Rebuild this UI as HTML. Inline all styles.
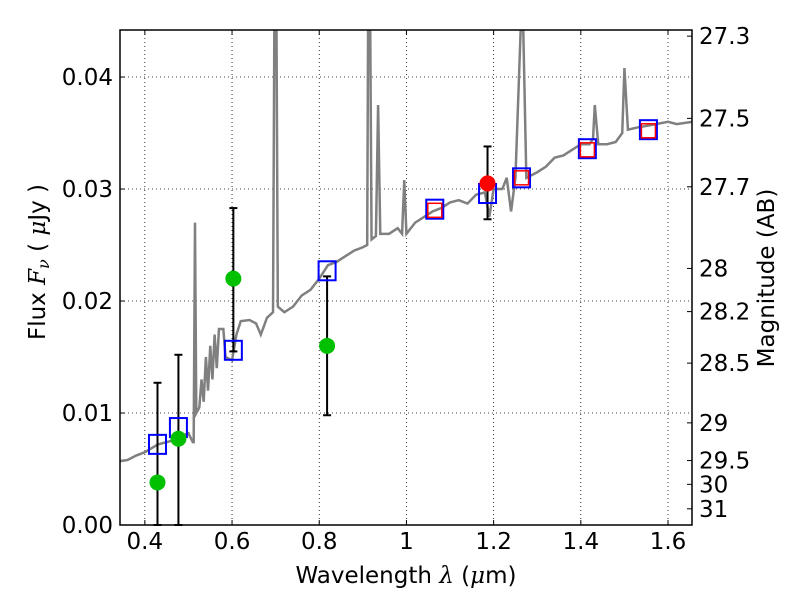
<!DOCTYPE html>
<html><head><meta charset="utf-8"><style>
body{margin:0;background:#fff}
svg{font-family:"DejaVu Sans","Liberation Sans",sans-serif}
</style></head><body>
<svg id="c" width="800" height="600" viewBox="0 0 800 600"></svg>
<script>
const specW=[0.343,0.36,0.38,0.4,0.43,0.46,0.48,0.5,0.51,0.512,0.515,0.518,0.525,0.53,0.535,0.54,0.545,0.55,0.555,0.56,0.565,0.57,0.58,0.585,0.6,0.61,0.62,0.64,0.655,0.666,0.68,0.694,0.697,0.702,0.705,0.72,0.74,0.76,0.78,0.8,0.82,0.84,0.86,0.88,0.9,0.91,0.912,0.917,0.92,0.93,0.935,0.94,0.96,0.98,0.99,0.995,1.0,1.02,1.04,1.06,1.08,1.1,1.12,1.14,1.16,1.18,1.19,1.2,1.22,1.23,1.24,1.25,1.262,1.268,1.275,1.3,1.32,1.34,1.36,1.38,1.4,1.42,1.428,1.432,1.44,1.46,1.48,1.495,1.5,1.508,1.53,1.56,1.6,1.62,1.655];
const specF=[0.0057,0.0058,0.0062,0.0065,0.0072,0.0075,0.0079,0.0082,0.0074,0.0074,0.027,0.010,0.0105,0.013,0.011,0.015,0.012,0.016,0.013,0.017,0.014,0.0175,0.0175,0.015,0.0147,0.017,0.0182,0.0183,0.018,0.017,0.0185,0.019,0.0442,0.0442,0.0195,0.019,0.0195,0.0205,0.021,0.022,0.0232,0.0235,0.024,0.0245,0.0248,0.025,0.0442,0.0442,0.0255,0.0258,0.0375,0.026,0.026,0.0265,0.026,0.0308,0.026,0.027,0.0275,0.028,0.0283,0.0288,0.029,0.0287,0.0295,0.0297,0.0275,0.030,0.030,0.031,0.028,0.031,0.0442,0.0442,0.031,0.0315,0.032,0.0328,0.033,0.0335,0.034,0.034,0.0345,0.0375,0.034,0.034,0.0342,0.035,0.0408,0.0353,0.0355,0.0357,0.036,0.0358,0.036];
const modelW=[0.429,0.477,0.603,0.818,1.065,1.186,1.264,1.415,1.555];
const modelF=[0.0072,0.0087,0.0156,0.0227,0.0282,0.0296,0.031,0.0336,0.0353];
const redSqW=[1.065,1.264,1.415,1.555];
const redSqF=[0.0281,0.031,0.0335,0.0352];
const obsW=[0.429,0.477,0.603,0.818];
const obsF=[0.0038,0.0077,0.022,0.016];
const obsLo=[0,0,0.0155,0.0098];
const obsHi=[0.0127,0.0152,0.0283,0.0222];
const detW=[1.186];const detF=[0.0305];const detLo=[0.0273];const detHi=[0.0338];
const xTicks=[0.4,0.6,0.8,1,1.2,1.4,1.6];
const yTicks=[0,0.01,0.02,0.03,0.04];
const magTicks=[27.3,27.5,27.7,28,28.2,28.5,29,29.5,30,31];
const L=120,R=692,T=30,B=525,X0=0.343,X1=1.655,Y0=0,Y1=0.0442;
const X=w=>L+(w-X0)/(X1-X0)*(R-L);
const Y=f=>B-(f-Y0)/(Y1-Y0)*(B-T);
const NS="http://www.w3.org/2000/svg",svg=document.getElementById('c');
function mk(t,a,p){const e=document.createElementNS(NS,t);for(const k in a)e.setAttribute(k,a[k]);(p||svg).appendChild(e);return e;}
const defs=mk('defs',{});const cp=mk('clipPath',{id:'clip'},defs);mk('rect',{x:L,y:T,width:R-L,height:B-T},cp);
xTicks.forEach(v=>{const g=mk('line',{x1:X(v),x2:X(v),y1:T,y2:B,stroke:'#000','stroke-dasharray':'1,3','stroke-width':0.8});


const t=mk('text',{x:X(v),y:B+24,'font-size':23,'text-anchor':'middle'});t.textContent=String(v);


mk('line',{x1:X(v),x2:X(v),y1:B,y2:B-5,stroke:'#000'});mk('line',{x1:X(v),x2:X(v),y1:T,y2:T+5,stroke:'#000'});});
yTicks.forEach(v=>{if(v>0){const g=mk('line',{x1:L,x2:R,y1:Y(v),y2:Y(v),stroke:'#000','stroke-dasharray':'1,3','stroke-width':0.8});

}
const t=mk('text',{x:L-7,y:Y(v)+8,'font-size':23,'text-anchor':'end'});t.textContent=v.toFixed(2);


mk('line',{x1:L,x2:L+5,y1:Y(v),y2:Y(v),stroke:'#000'});});
magTicks.forEach(m=>{const f=Math.pow(10,(23.9-m)/2.5);const y=Y(f);
mk('line',{x1:R,x2:R-5,y1:y,y2:y,stroke:'#000'});
const t=mk('text',{x:R+7,y:y+8,'font-size':23});t.textContent=String(m);

});
const sp=mk('polyline',{points:specW.map((w,i)=>X(w)+','+Y(specF[i])).join(' '),fill:'none',stroke:'#808080','stroke-width':2.5,'clip-path':'url(#clip)'});


function eb(w,lo,hi){const x=X(w);mk('line',{x1:x,x2:x,y1:Y(lo),y2:Y(hi),stroke:'#000','stroke-width':2});
mk('line',{x1:x-4,x2:x+4,y1:Y(lo),y2:Y(lo),stroke:'#000','stroke-width':2});mk('line',{x1:x-4,x2:x+4,y1:Y(hi),y2:Y(hi),stroke:'#000','stroke-width':2});}
obsW.forEach((w,i)=>eb(w,obsLo[i],obsHi[i]));detW.forEach((w,i)=>eb(w,detLo[i],detHi[i]));
modelW.forEach((w,i)=>{const r=mk('rect',{x:X(w)-8.5,y:Y(modelF[i])-9.5,width:17,height:19,fill:'none',stroke:'#0000ff','stroke-width':2});

});
redSqW.forEach((w,i)=>{const r=mk('rect',{x:X(w)-7,y:Y(redSqF[i])-7,width:14,height:14,fill:'none',stroke:'#ff0000','stroke-width':1.5});

});
obsW.forEach((w,i)=>{const c=mk('circle',{cx:X(w),cy:Y(obsF[i]),r:8,fill:'#00c000'});

});
detW.forEach((w,i)=>{const c=mk('circle',{cx:X(w),cy:Y(detF[i]),r:8,fill:'#ff0000'});

});
const fr=mk('rect',{x:L,y:T,width:R-L,height:B-T,fill:'none',stroke:'#000','stroke-width':1.5});


</script>
<div style="position:absolute;left:0;top:0;width:800px;height:600px;pointer-events:none">
<svg width="800" height="600" style="font-family:'DejaVu Sans','Liberation Sans',sans-serif">
<text x="406" y="583" font-size="23" text-anchor="middle">Wavelength  <tspan font-style="italic" font-family="DejaVu Serif">λ</tspan> (<tspan font-style="italic" font-family="DejaVu Serif">μ</tspan>m)</text>
<text transform="translate(45,262) rotate(-90)" font-size="23" text-anchor="middle">Flux  <tspan font-style="italic" font-family="DejaVu Serif">F<tspan font-size="16" dy="4">ν</tspan></tspan><tspan dy="-4">  (  </tspan><tspan font-style="italic" font-family="DejaVu Serif">μ</tspan>Jy )</text>
<text transform="translate(774,278) rotate(-90)" font-size="23" text-anchor="middle">Magnitude (AB)</text>
</svg></div>
</body></html>
